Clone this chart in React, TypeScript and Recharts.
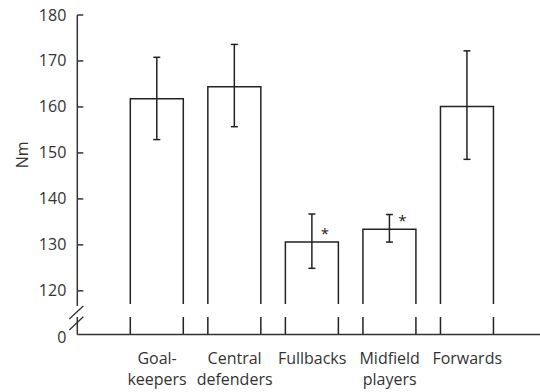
import React from 'react';
import { BarChart, Bar, XAxis, YAxis, ErrorBar, LabelList } from 'recharts';

const categoryLine1 = ['Goal-', 'Central', 'Fullbacks', 'Midfield', 'Forwards'];
const categoryLine2 = ['keepers', 'defenders', '', 'players', ''];
const meanTorque = [161.8, 164.4, 130.6, 133.4, 160.1];
const errLow = [8.9, 8.7, 5.7, 2.8, 11.5];
const errHigh = [9.0, 9.2, 6.1, 3.2, 12.1];
const significant = [false, false, true, true, false];
const BREAK_VALUE = 110.5;
const yTicks = [BREAK_VALUE, 120, 130, 140, 150, 160, 170, 180];

const data = categoryLine1.map((l1, i) => ({
  name: categoryLine2[i] ? `${l1}\n${categoryLine2[i]}` : l1,
  value: meanTorque[i],
  err: [errLow[i], errHigh[i]],
  sig: significant[i] ? '*' : '',
}));

const FONT = '"Open Sans", sans-serif';
const INK = '#222';
const TEXT = '#333';

const BrokenBar = (props: any) => {
  const { x, y, width, height } = props;
  const bottom = y + height;
  const gapTop = bottom - 30.5;
  const gapBottom = bottom - 17.5;
  const d = `M${x},${bottom}L${x},${gapBottom}M${x},${gapTop}L${x},${y}L${x + width},${y}L${x + width},${gapTop}M${x + width},${gapBottom}L${x + width},${bottom}`;
  return <path d={d} fill="none" stroke={INK} strokeWidth={1.5} />;
};

const YTick = (props: any) => {
  const { x, y, payload } = props;
  const axisX = x + 11;
  const isBreak = payload.value === BREAK_VALUE;
  return (
    <g>
      <text x={x} y={y} dy={isBreak ? 8 : 5.5} textAnchor="end" fontFamily={FONT} fontSize={16} fill={TEXT}>
        {isBreak ? '0' : payload.value}
      </text>
      {!isBreak && <line x1={axisX} x2={axisX + 6} y1={y} y2={y} stroke={TEXT} strokeWidth={1.5} />}
      {isBreak && (
        <g stroke={TEXT} strokeWidth={1.3}>
          <line x1={axisX - 8} y1={y - 15.5} x2={axisX + 6} y2={y - 28.5} />
          <line x1={axisX - 8} y1={y - 4.5} x2={axisX + 6} y2={y - 17.8} />
        </g>
      )}
    </g>
  );
};

const XTick = (props: any) => {
  const { x, y, payload } = props;
  const lines = String(payload.value).split('\n');
  return (
    <text x={x} y={y} textAnchor="middle" fontFamily={FONT} fontSize={16} fill={TEXT}>
      {lines.map((l, i) => (
        <tspan key={i} x={x} dy={i === 0 ? 29 : 21.5}>{l}</tspan>
      ))}
    </text>
  );
};

const Star = (props: any) => {
  const { x, y, width, value } = props;
  if (!value) return null;
  return (
    <text x={x + width / 2 + 13} y={y - 3} textAnchor="middle" fontFamily={FONT} fontSize={15} fill={INK}>
      {value}
    </text>
  );
};

const YLabel = (props: any) => {
  const vb = props.viewBox || { x: 0, y: 15, height: 320 };
  const cx = 22;
  const cy = vb.y + vb.height / 2 - 20;
  return (
    <text x={cx} y={cy} transform={`rotate(-90 ${cx} ${cy})`} textAnchor="middle" dominantBaseline="central" fontFamily={FONT} fontSize={16} fill={TEXT}>
      Nm
    </text>
  );
};

export default function App() {
  return (
    <div style={{ position: 'absolute', left: 0, top: 0, background: '#fff' }}>
      <BarChart width={540} height={392} data={data} margin={{ top: 15, right: 0, bottom: 0, left: 0 }}>
        <XAxis
          dataKey="name"
          height={57.5}
          tickLine={false}
          tickSize={0}
          tickMargin={0}
          interval={0}
          padding={{ left: 41, right: 34 }}
          axisLine={{ stroke: TEXT, strokeWidth: 1.5 }}
          tick={<XTick />}
        />
        <YAxis
          width={77.3}
          domain={[BREAK_VALUE, 180]}
          ticks={yTicks}
          allowDataOverflow
          interval={0}
          tickLine={false}
          tickSize={0}
          tickMargin={11}
          axisLine={{ stroke: TEXT, strokeWidth: 1.5, strokeDasharray: '291 11 40' }}
          tick={<YTick />}
          label={<YLabel />}
        />
        <Bar dataKey="value" barSize={53} isAnimationActive={false} shape={<BrokenBar />}>
          <ErrorBar dataKey="err" direction="y" width={3.5} strokeWidth={1.5} stroke={INK} />
          <LabelList dataKey="sig" content={<Star />} />
        </Bar>
      </BarChart>
    </div>
  );
}
